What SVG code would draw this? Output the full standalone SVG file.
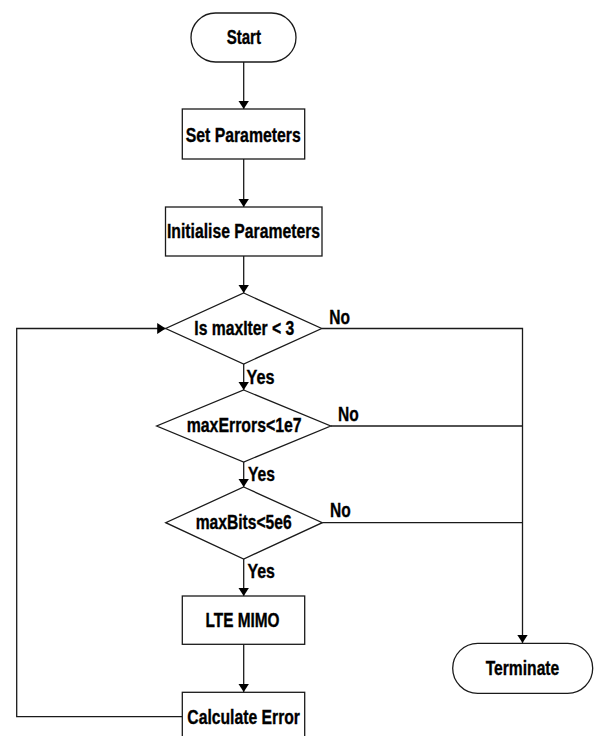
<svg xmlns="http://www.w3.org/2000/svg" width="594" height="736" viewBox="0 0 594 736">
<style>
.s{fill:#fff;stroke:#1a1a1a;stroke-width:1.3}
.t{font-family:"Liberation Sans",Arial,sans-serif;font-weight:bold;font-size:20.5px;fill:#000;stroke:#000;stroke-width:0.35}
.c{fill:none;stroke:#1a1a1a;stroke-width:1.3}
</style>
<defs>
<marker id="a" viewBox="0 0 10 10" refX="10" refY="5" markerWidth="8.5" markerHeight="11" markerUnits="userSpaceOnUse" orient="auto" preserveAspectRatio="none">
<path d="M0,0 L10,5 L0,10 Z" fill="#000"/>
</marker>
</defs>
<rect width="594" height="736" fill="#fff"/>
<g id="connectors">
<line class="c" x1="243.7" y1="62" x2="243.7" y2="109" marker-end="url(#a)"/>
<line class="c" x1="243.7" y1="159" x2="243.7" y2="207" marker-end="url(#a)"/>
<line class="c" x1="243.7" y1="256" x2="243.7" y2="293" marker-end="url(#a)"/>
<line class="c" x1="243.7" y1="364" x2="243.7" y2="390" marker-end="url(#a)"/>
<line class="c" x1="243.7" y1="462" x2="243.7" y2="487" marker-end="url(#a)"/>
<line class="c" x1="243.7" y1="559" x2="243.7" y2="596" marker-end="url(#a)"/>
<line class="c" x1="243.7" y1="644" x2="243.7" y2="692" marker-end="url(#a)"/>
<polyline class="c" points="321.7,328.5 522.5,328.5 522.5,643" marker-end="url(#a)"/>
<line class="c" x1="330.7" y1="426" x2="522.5" y2="426"/>
<line class="c" x1="322.3" y1="522.7" x2="522.5" y2="522.7"/>
<polyline class="c" points="182.3,716.7 16.7,716.7 16.7,328.5 165.7,328.5" marker-end="url(#a)"/>
<text class="t" x="329.3" y="324" textLength="20.7" lengthAdjust="spacingAndGlyphs">No</text>
<text class="t" x="338" y="420.7" textLength="20.7" lengthAdjust="spacingAndGlyphs">No</text>
<text class="t" x="330" y="517" textLength="20.7" lengthAdjust="spacingAndGlyphs">No</text>
<text class="t" x="246.5" y="384.3" textLength="28" lengthAdjust="spacingAndGlyphs">Yes</text>
<text class="t" x="248" y="480.7" textLength="27" lengthAdjust="spacingAndGlyphs">Yes</text>
<text class="t" x="247.5" y="578" textLength="27.5" lengthAdjust="spacingAndGlyphs">Yes</text>
</g>
<g id="start">
<rect class="s" x="191" y="13" width="105" height="49" rx="24.5"/>
<text class="t" x="226.7" y="44.3" textLength="34.3" lengthAdjust="spacingAndGlyphs">Start</text>
</g>
<g id="set-parameters">
<rect class="s" x="182.3" y="109" width="122.4" height="50"/>
<text class="t" x="185.7" y="141.7" textLength="115" lengthAdjust="spacingAndGlyphs">Set Parameters</text>
</g>
<g id="initialise-parameters">
<rect class="s" x="165.5" y="207" width="156.5" height="49"/>
<text class="t" x="167" y="238.3" textLength="153" lengthAdjust="spacingAndGlyphs">Initialise Parameters</text>
</g>
<g id="max-iter">
<polygon class="s" points="243.7,293 321.7,328.5 243.7,364 165.7,328.5"/>
<text class="t" x="194.3" y="335" textLength="100" lengthAdjust="spacingAndGlyphs">Is maxIter &lt; 3</text>
</g>
<g id="max-errors">
<polygon class="s" points="243.7,390 330.7,426 243.7,462 156.7,426"/>
<text class="t" x="186.7" y="432.3" textLength="115" lengthAdjust="spacingAndGlyphs">maxErrors&lt;1e7</text>
</g>
<g id="max-bits">
<polygon class="s" points="243.7,487 322.3,522.7 243.7,559 165.7,522.7"/>
<text class="t" x="195.7" y="529.3" textLength="96" lengthAdjust="spacingAndGlyphs">maxBits&lt;5e6</text>
</g>
<g id="lte-mimo">
<rect class="s" x="182.3" y="596" width="122.4" height="48.3"/>
<text class="t" x="205.5" y="626.7" textLength="74" lengthAdjust="spacingAndGlyphs">LTE MIMO</text>
</g>
<g id="calculate-error">
<rect class="s" x="182.3" y="692.3" width="122.4" height="50"/>
<text class="t" x="187.3" y="724" textLength="112.7" lengthAdjust="spacingAndGlyphs">Calculate Error</text>
</g>
<g id="terminate">
<rect class="s" x="452.7" y="643.3" width="140" height="50" rx="25"/>
<text class="t" x="485.7" y="675" textLength="73.6" lengthAdjust="spacingAndGlyphs">Terminate</text>
</g>
</svg>
